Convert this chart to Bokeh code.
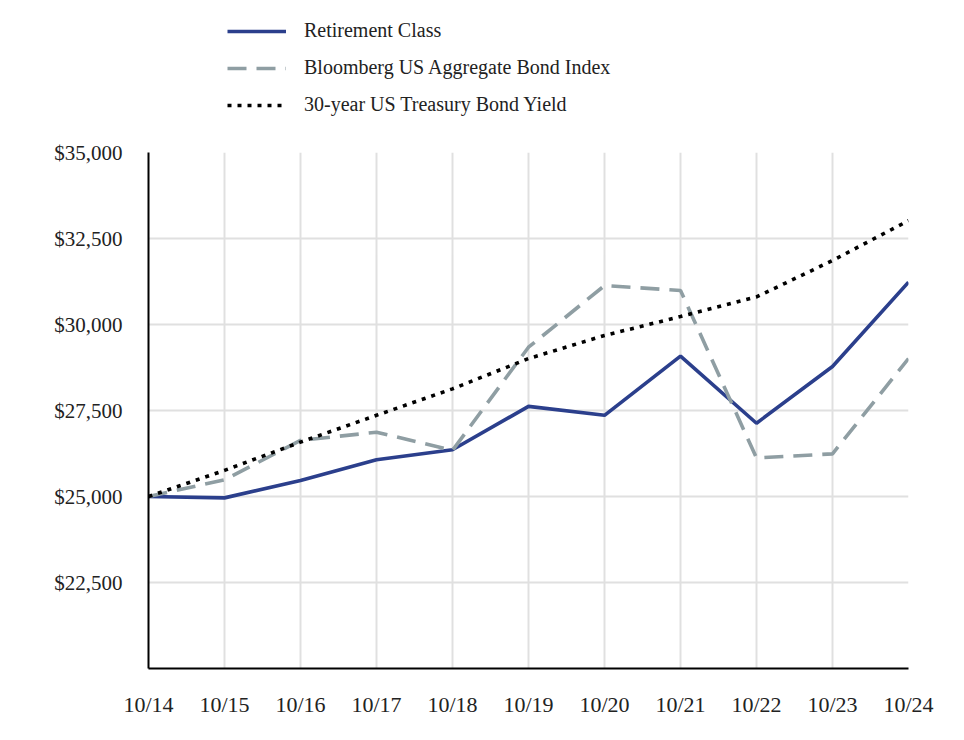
from bokeh.plotting import figure
from bokeh.layouts import column
from bokeh.models import FixedTicker, Legend, LegendItem, NumeralTickFormatter, Range1d
from bokeh.embed import file_html
from bokeh.resources import INLINE

periods = ["10/14", "10/15", "10/16", "10/17", "10/18", "10/19", "10/20", "10/21", "10/22", "10/23", "10/24"]
retirement = [25000, 24960, 25465, 26070, 26360, 27620, 27360, 29080, 27130, 28780, 31230]
bloomberg = [25000, 25485, 26630, 26870, 26340, 29340, 31130, 30990, 26120, 26240, 29010]
treasury = [25000, 25760, 26580, 27360, 28130, 29010, 29680, 30230, 30800, 31860, 33020]
y_ticks = [22500, 25000, 27500, 30000, 32500, 35000]
series_names = ["Retirement Class", "Bloomberg US Aggregate Bond Index", "30-year US Treasury Bond Yield"]

FONT = "Liberation Serif"
COLORS = ["#2b3f8c", "#8f9ea3", "#000000"]
WIDTHS = [3.6, 3.6, 3.6]
DASHES = ["solid", "19 10", "4 6"]
xs = list(range(len(periods)))
all_series = [retirement, bloomberg, treasury]

# main chart
p = figure(width=948, height=608, output_backend="svg", toolbar_location=None,
           x_range=Range1d(0, len(periods) - 1), y_range=Range1d(20000, 35000),
           min_border_left=148, min_border_right=40, min_border_top=32, min_border_bottom=60)
p.outline_line_color = None

for ys, c, w, d in zip(all_series, COLORS, WIDTHS, DASHES):
    p.line(xs, ys, line_color=c, line_width=w, line_dash=d)

p.xaxis.ticker = FixedTicker(ticks=xs)
p.xaxis.major_label_overrides = {i: s for i, s in enumerate(periods)}
p.yaxis.ticker = FixedTicker(ticks=y_ticks)
p.yaxis.formatter = NumeralTickFormatter(format="$0,0")

for ax in (p.xaxis[0], p.yaxis[0]):
    ax.axis_line_color = "black"
    ax.axis_line_width = 2
    ax.major_tick_line_color = None
    ax.minor_tick_line_color = None
    ax.major_label_text_font = FONT
    ax.major_label_text_color = "#222222"
p.xaxis.major_label_text_font_size = "22px"
p.xaxis.major_label_standoff = 17
p.yaxis.major_label_text_font_size = "21px"
p.yaxis.major_label_standoff = 20

p.xgrid.ticker = FixedTicker(ticks=xs)
p.ygrid.ticker = FixedTicker(ticks=y_ticks + [20000])
for g in (p.xgrid[0], p.ygrid[0]):
    g.grid_line_color = "#e0e0e0"
    g.grid_line_width = 2

# legend strip above the chart (series lie outside this strip's ranges,
# so only their legend samples show)
lg = figure(width=948, height=120, output_backend="svg", toolbar_location=None,
            x_range=Range1d(100, 101), y_range=Range1d(0, 1),
            min_border_left=148, min_border_right=40, min_border_top=0, min_border_bottom=0)
lg.outline_line_color = None
lg.axis.visible = False
lg.grid.visible = False
items = []
for name, ys, c, w, d in zip(series_names, all_series, COLORS, WIDTHS, DASHES):
    r = lg.line(xs, ys, line_color=c, line_width=w, line_dash=d)
    items.append(LegendItem(label=name, renderers=[r]))

legend = Legend(items=items, location=(79, 4), orientation="vertical")
legend.border_line_color = None
legend.background_fill_alpha = 0
legend.label_text_font = FONT
legend.label_text_font_size = "20px"
legend.label_text_color = "#222222"
legend.glyph_width = 59
legend.glyph_height = 20
legend.label_standoff = 18
legend.spacing = 14
legend.padding = 0
legend.margin = 0
lg.add_layout(legend, "center")

layout = column(lg, p, spacing=0)
open("out.html", "w").write(file_html(layout, INLINE))
